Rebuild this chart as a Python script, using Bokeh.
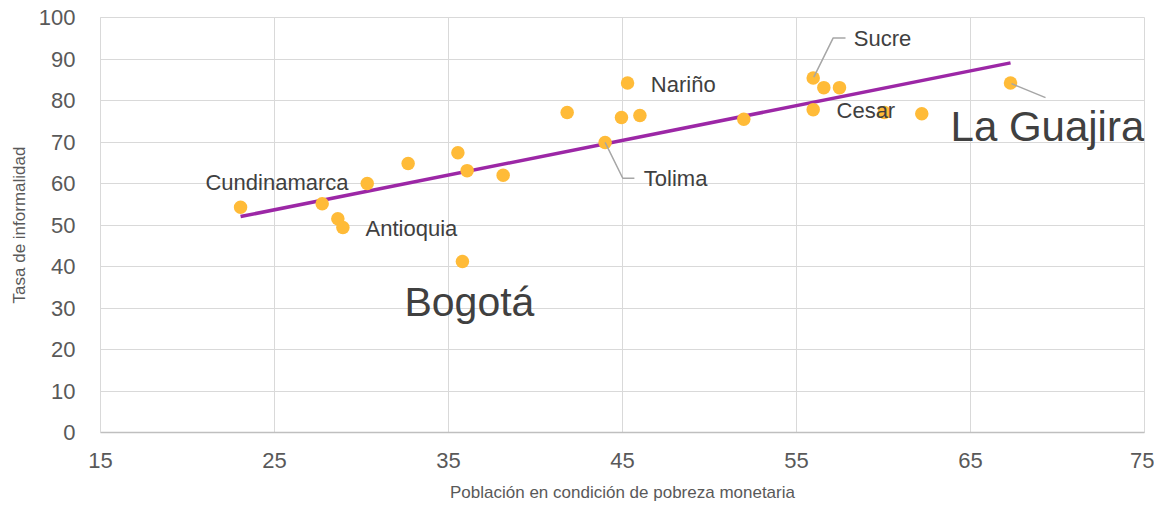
import numpy as np
from bokeh.plotting import figure
from bokeh.models import Range1d, FixedTicker
from bokeh.core.properties import value
from bokeh.embed import file_html
from bokeh.resources import INLINE

# ---- data ----
pobreza = [23.05, 27.74, 28.64, 28.93, 30.33, 32.68, 35.54, 36.07, 38.14, 35.80,
           41.82, 44.00, 44.94, 45.29, 46.00, 51.97, 55.96, 56.57, 57.47, 55.96,
           60.05, 62.20, 67.30]
informalidad = [54.3, 55.1, 51.5, 49.4, 60.0, 64.8, 67.4, 63.1, 62.0, 41.2,
                77.1, 69.9, 75.9, 84.2, 76.4, 75.5, 85.4, 83.1, 83.1, 77.8,
                77.1, 76.8, 84.2]
nombres = ["", "", "", "Antioquia", "Cundinamarca", "", "", "", "", "Bogotá",
           "", "Tolima", "", "Nariño", "", "", "Sucre", "", "", "Cesar",
           "", "", "La Guajira"]
x_ticks = [15, 25, 35, 45, 55, 65, 75]
y_ticks = [0, 10, 20, 30, 40, 50, 60, 70, 80, 90, 100]

# ---- layout ----
FW, FH = 1044, 417
ML, MT, MR, MB = 100, 17, 10, 70
W, H = ML + FW + MR, MT + FH + MB
PXX = FW / (x_ticks[-1] - x_ticks[0])
PXY = FH / (y_ticks[-1] - y_ticks[0])

FONT = "Liberation Sans"
TICK_C = "#595959"
LAB_C = "#404040"
GRID_C = "#D9D9D9"

p = figure(width=W, height=H, output_backend="svg", toolbar_location=None,
           x_range=Range1d(x_ticks[0], x_ticks[-1]),
           y_range=Range1d(y_ticks[0], y_ticks[-1]),
           min_border_left=ML, min_border_top=MT, min_border_right=MR,
           min_border_bottom=MB)
p.outline_line_color = GRID_C
p.background_fill_color = "white"
p.border_fill_color = "white"

p.xaxis.ticker = FixedTicker(ticks=x_ticks)
p.yaxis.ticker = FixedTicker(ticks=y_ticks)
for ax in (p.xaxis[0], p.yaxis[0]):
    ax.major_tick_line_color = None
    ax.minor_tick_line_color = None
    ax.major_tick_out = 0
    ax.major_tick_in = 0
    ax.major_label_text_font = FONT
    ax.major_label_text_font_size = "22px"
    ax.major_label_text_color = TICK_C
    ax.axis_label_text_font = FONT
    ax.axis_label_text_font_style = "normal"
    ax.axis_label_text_color = TICK_C
    ax.axis_label_text_font_size = "17px"
p.xaxis.axis_line_color = "#BFBFBF"
p.xaxis.axis_line_width = 1.5
p.yaxis.axis_line_color = GRID_C
p.xaxis.major_label_standoff = 20
p.yaxis.major_label_standoff = 25
p.xaxis.axis_label = "Población en condición de pobreza monetaria"
p.yaxis.axis_label = "Tasa de informalidad"
p.xaxis.axis_label_standoff = 12
p.yaxis.axis_label_standoff = 7
p.xgrid.grid_line_color = GRID_C
p.ygrid.grid_line_color = GRID_C

# ---- trend line (least squares fit of the data) ----
slope, inter = np.polyfit(pobreza, informalidad, 1)
tx = [min(pobreza), max(pobreza)]
ty = [slope * v + inter for v in tx]
p.line(tx, ty, line_color="#9C27A6", line_width=3.5)

# ---- points ----
p.scatter(pobreza, informalidad, size=13.5, fill_color="#FFBB38",
          line_color=None)

# ---- labels: (align, dx px, dy px below, font px) ----
label_style = {
    "Cundinamarca": ("right", -18.7, 7.4, 22),
    "Antioquia": ("left", 22.7, 9.0, 22),
    "Bogotá": ("center", 7.0, 55.0, 41),
    "Tolima": ("left", 38.7, 44.4, 22),
    "Nariño": ("left", 23.3, 9.0, 22),
    "Sucre": ("left", 40.6, -31.7, 22),
    "Cesar": ("left", 23.3, 8.4, 22),
    "La Guajira": ("left", -60.0, 59.0, 42),
}
# leader lines in pixel offsets from the point
leaders = {
    "Tolima": [(0, 0), (17.7, 36), (29.3, 36)],
    "Sucre": [(0.6, -1), (20, -40.4), (32.3, -40.4)],
    "La Guajira": [(1, 0.6), (35, 14.6)],
}

for i, name in enumerate(nombres):
    if not name:
        continue
    x0, y0 = pobreza[i], informalidad[i]
    if name in leaders:
        lx = [x0 + dx / PXX for dx, dy in leaders[name]]
        ly = [y0 - dy / PXY for dx, dy in leaders[name]]
        p.line(lx, ly, line_color="#A6A6A6", line_width=1.5)
    align, dx, dy, fs = label_style[name]
    p.text(x=[x0], y=[y0], text=[name], x_offset=dx, y_offset=dy - 0.36 * fs,
           text_align=align, text_baseline="alphabetic",
           text_font=value(FONT), text_font_size=f"{fs}px",
           text_color=LAB_C)

open("out.html", "w").write(file_html(p, INLINE))
